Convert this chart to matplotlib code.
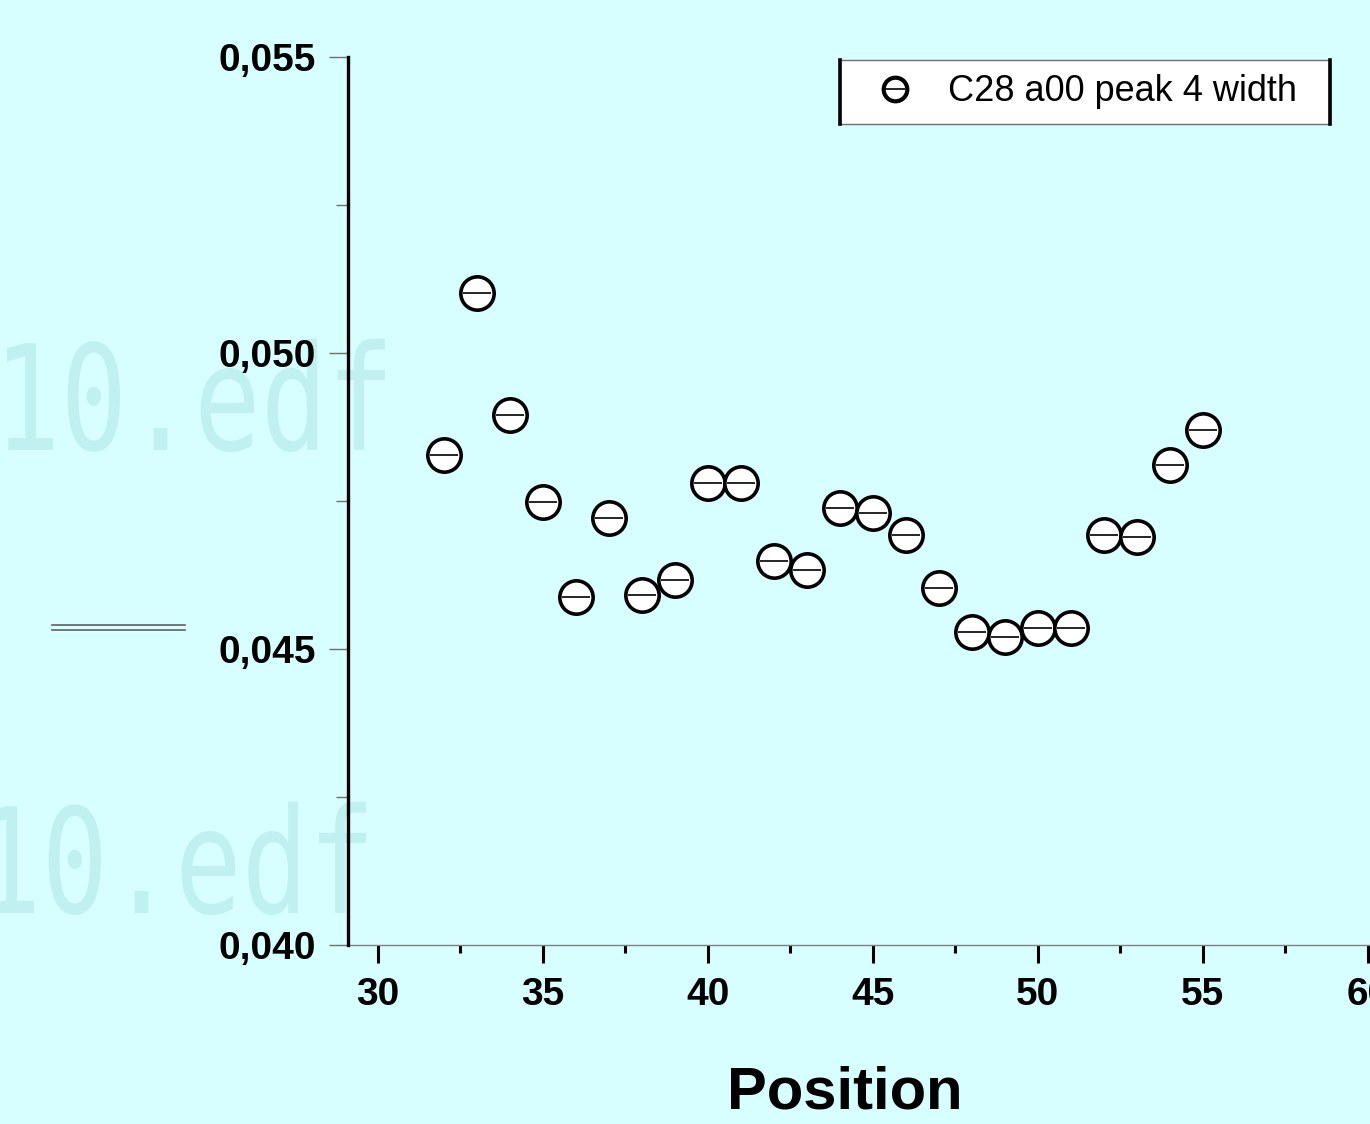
import matplotlib
matplotlib.use("Agg")
import matplotlib.pyplot as plt
from matplotlib.lines import Line2D
from matplotlib.patches import PathPatch
from matplotlib.textpath import TextPath
from matplotlib.font_manager import FontProperties
from matplotlib.transforms import Affine2D
from matplotlib.ticker import FixedLocator, MultipleLocator

# Peak width by position
positions = [32, 33, 34, 35, 36, 37, 38, 39, 40, 41, 42, 43,
             44, 45, 46, 47, 48, 49, 50, 51, 52, 53, 54, 55]
widths = [0.04828, 0.05101, 0.04895, 0.04748, 0.04588, 0.04721,
          0.04591, 0.04617, 0.04780, 0.04780, 0.04649, 0.04633,
          0.04738, 0.04730, 0.04693, 0.04603, 0.04529, 0.04520,
          0.04535, 0.04535, 0.04693, 0.04689, 0.04811, 0.04870]
series_label = "C28 a00 peak 4 width"

y_ticks = [0.040, 0.045, 0.050, 0.055]
y_tick_labels = ["0,040", "0,045", "0,050", "0,055"]
x_ticks = [30, 35, 40, 45, 50, 55, 60]
x_label = "Position"

BG = "#d7ffff"
FONT = ["Liberation Sans", "DejaVu Sans"]
plt.rcParams["font.family"] = FONT

W, H = 1370, 1124
fig = plt.figure(figsize=(W / 100, H / 100), dpi=100, facecolor=BG)

# faint file-name watermark behind the plot (tall, narrow mono lettering)
wm_path = TextPath((0, 0), "10.edf", size=100,
                   prop=FontProperties(family="DejaVu Sans Mono"))
wm_ext = wm_path.get_extents()
for x0, y0 in [(7, 450), (-12, 913)]:
    sx = 378 / wm_ext.width
    sy = 107 / 73.0
    tr = (Affine2D().translate(-wm_ext.x0, 0).scale(sx, sy)
          .translate(x0, H - y0))
    fig.add_artist(PathPatch(tr.transform_path(wm_path), facecolor="#c0f0f0",
                             edgecolor="none", transform=None, zorder=0))

# small double rule at the left edge
for yy in (625, 630):
    fig.add_artist(Line2D([52 / W, 185 / W], [1 - yy / H, 1 - yy / H],
                          color="#606060", lw=1.2, zorder=1))

ax_left, ax_right = 348 / W, 1384.5 / W
ax_bottom, ax_top = 1 - 945 / H, 1 - 57 / H
ax = fig.add_axes([ax_left, ax_bottom, ax_right - ax_left, ax_top - ax_bottom])
ax.set_facecolor("none")
ax.set_xlim(29.1, 60.5)
ax.set_ylim(0.040, 0.055)

for s in ("top", "right"):
    ax.spines[s].set_visible(False)
ax.spines["left"].set_linewidth(2.4)
ax.spines["left"].set_color("black")
ax.spines["bottom"].set_linewidth(1.0)
ax.spines["bottom"].set_color("#808080")
ax.spines["left"].set_zorder(5)

ax.yaxis.set_major_locator(FixedLocator(y_ticks))
ax.set_yticklabels(y_tick_labels)
ax.yaxis.set_minor_locator(MultipleLocator(0.0025))
ax.xaxis.set_major_locator(FixedLocator(x_ticks))
ax.xaxis.set_minor_locator(MultipleLocator(2.5))

ax.tick_params(axis="y", which="major", direction="out", length=14,
               width=1.0, color="#707070", pad=9, labelsize=28)
ax.tick_params(axis="y", which="minor", direction="out", length=9,
               width=1.0, color="#707070")
ax.tick_params(axis="x", which="major", direction="out", length=13,
               width=2.2, color="black", pad=10, labelsize=28)
ax.tick_params(axis="x", which="minor", direction="out", length=6,
               width=2.2, color="black")
for lab in ax.get_xticklabels() + ax.get_yticklabels():
    lab.set_fontweight("bold")

ax.set_xlabel(x_label, fontsize=43, fontweight="bold")
ax.xaxis.set_label_coords((845 - 348) / (1384.5 - 348), -0.136)

# open circle with a horizontal bar through the centre
ring, = ax.plot(positions, widths, linestyle="none", marker="o",
                markersize=24, markerfacecolor="white",
                markeredgecolor="black", markeredgewidth=2.6, zorder=3)
bar, = ax.plot(positions, widths, linestyle="none", marker="_",
               markersize=20, markeredgecolor="black",
               markeredgewidth=1.2, zorder=4)
ring_h = Line2D([], [], linestyle="none", marker="o", markersize=17,
                markerfacecolor="white", markeredgecolor="black",
                markeredgewidth=3)
bar_h = Line2D([], [], linestyle="none", marker="_", markersize=14,
               markeredgecolor="black", markeredgewidth=1.2)

lx0 = (840 - 348) / (1384.5 - 348)
lx1 = (1330 - 348) / (1384.5 - 348)
ly1 = 1 - (60 - 57) / 888
leg = ax.legend([(ring_h, bar_h)], [series_label], loc="upper left",
                bbox_to_anchor=(lx0, ly1 - 0.07, lx1 - lx0, 0.07),
                mode="expand", borderaxespad=0, frameon=True, fancybox=False,
                fontsize=26, handlelength=2.23, handletextpad=0.37,
                borderpad=0.4, framealpha=1)
leg.get_frame().set_facecolor("white")
leg.get_frame().set_edgecolor("#707070")
leg.get_frame().set_linewidth(1.0)

# heavy left and right sides of the legend box
fig.canvas.draw()
bb = leg.get_frame().get_window_extent().transformed(fig.transFigure.inverted())
for xx in (bb.x0, bb.x1):
    fig.add_artist(Line2D([xx, xx], [bb.y0, bb.y1], color="black", lw=2.6,
                          zorder=10))

fig.savefig("out.png", dpi=100, facecolor=BG)
